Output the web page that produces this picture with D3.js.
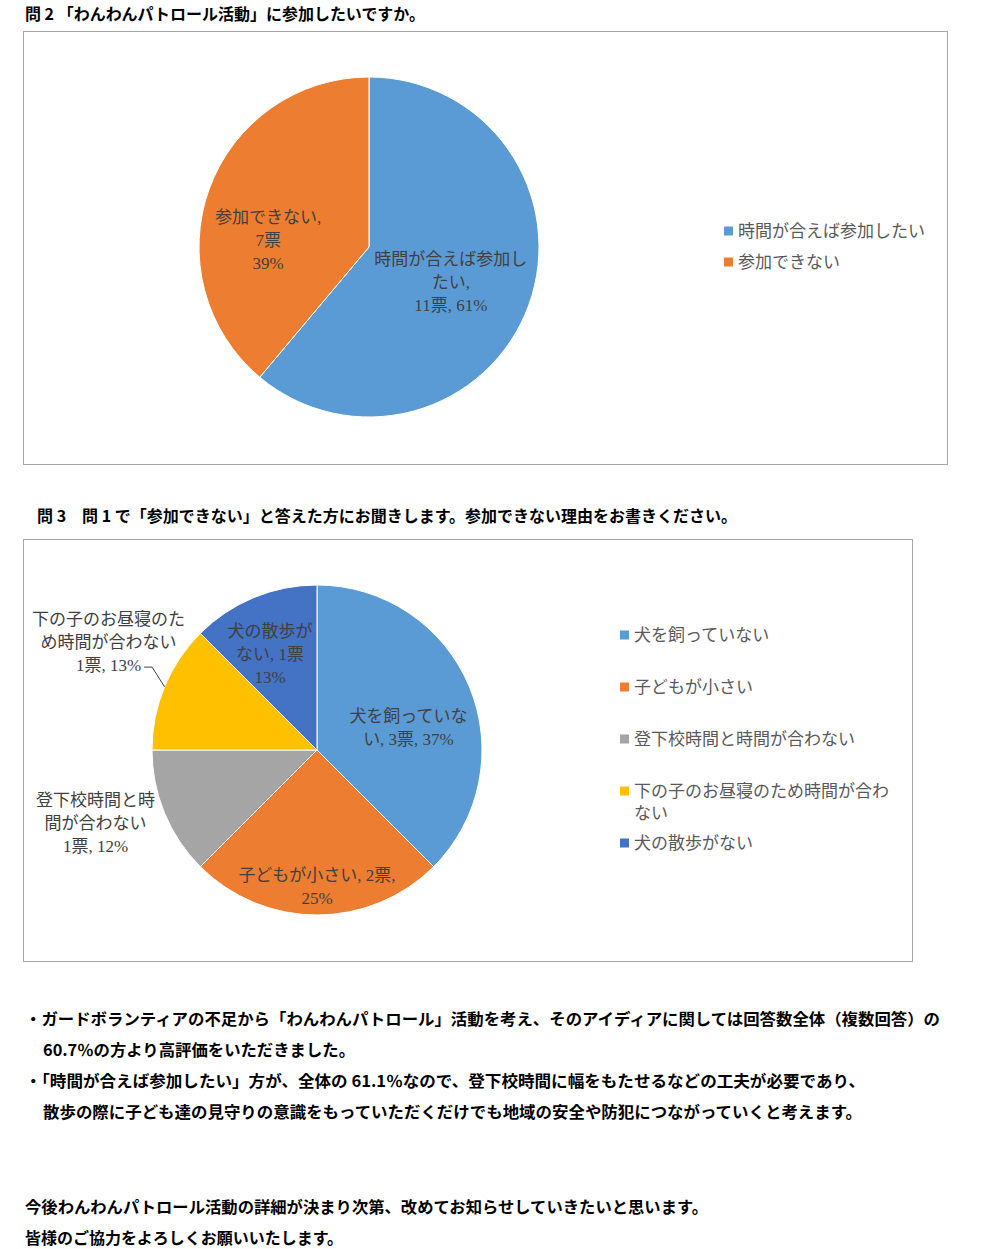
<!DOCTYPE html>
<html lang="ja">
<head>
<meta charset="utf-8">
<script src="https://cdn.jsdelivr.net/npm/d3@7"></script>
<style>
  html, body { margin: 0; padding: 0; background: #fff; }
  svg { display: block; }
  .heading { font-family: "Noto Sans CJK JP", sans-serif; font-weight: 700; fill: #000; }
  .label { font-family: "Liberation Serif", "Noto Sans CJK JP", serif; fill: #404040; }
  .legend { font-family: "Liberation Serif", "Noto Sans CJK JP", serif; fill: #595959; }
</style>
</head>
<body>
<div id="page"></div>
<script>
// --- Data ---
const q2Categories = ["時間が合えば参加したい", "参加できない"];
const q2Votes = [11, 7];
const q2Percents = ["61%", "39%"];
const q2Colors = ["#5B9BD5", "#ED7D31"];

const q3Categories = ["犬を飼っていない", "子どもが小さい", "登下校時間と時間が合わない", "下の子のお昼寝のため時間が合わない", "犬の散歩がない"];
const q3Votes = [3, 2, 1, 1, 1];
const q3Percents = ["37%", "25%", "12%", "13%", "13%"];
const q3Colors = ["#5B9BD5", "#ED7D31", "#A5A5A5", "#FFC000", "#4472C4"];

// data label lines as they wrap in the original
const q2LabelLines = [
    ["時間が合えば参加し", "たい,", "11票, 61%"],
    ["参加できない,", "7票", "39%"]
];
const q3LabelLines = [
    ["犬を飼っていな", "い, 3票, 37%"],
    ["子どもが小さい, 2票,", "25%"],
    ["登下校時間と時", "間が合わない", "1票, 12%"],
    ["下の子のお昼寝のた", "め時間が合わない", "1票, 13%"],
    ["犬の散歩が", "ない, 1票", "13%"]
];
const q3LegendLines = [
    ["犬を飼っていない"],
    ["子どもが小さい"],
    ["登下校時間と時間が合わない"],
    ["下の子のお昼寝のため時間が合わ", "ない"],
    ["犬の散歩がない"]
];

const titleQ2 = "問 2 「わんわんパトロール活動」に参加したいですか。";
const titleQ3 = "問 3　問 1 で「参加できない」と答えた方にお聞きします。参加できない理由をお書きください。";
const notes = [
    "・ガードボランティアの不足から「わんわんパトロール」活動を考え、そのアイディアに関しては回答数全体（複数回答）の",
    "60.7％の方より高評価をいただきました。",
    "・「時間が合えば参加したい」方が、全体の 61.1％なので、登下校時間に幅をもたせるなどの工夫が必要であり、",
    "散歩の際に子ども達の見守りの意識をもっていただくだけでも地域の安全や防犯につながっていくと考えます。",
    "今後わんわんパトロール活動の詳細が決まり次第、改めてお知らせしていきたいと思います。",
    "皆様のご協力をよろしくお願いいたします。"
];

// --- Page ---
const W = 1000, H = 1249;
const svg = d3.select("#page").append("svg")
    .attr("width", W)
    .attr("height", H);

// heading / paragraph text squeezed to the width it takes in the original
function heading(txt, x, y, w, size) {
    svg.append("text")
        .attr("class", "heading")
        .attr("x", x)
        .attr("y", y)
        .attr("dominant-baseline", "central")
        .attr("font-size", size)
        .attr("textLength", w)
        .attr("lengthAdjust", "spacingAndGlyphs")
        .text(txt);
}

heading(titleQ2, 25, 13, 400, 16);
heading(titleQ3, 37, 515, 700, 16);

const noteLayout = [
    { x: 25, y: 1018, w: 915 },
    { x: 43, y: 1049, w: 312 },
    { x: 25, y: 1080, w: 840 },
    { x: 43, y: 1111, w: 819 },
    { x: 25, y: 1206, w: 683 },
    { x: 25, y: 1237, w: 318 }
];
notes.forEach((t, i) => heading(t, noteLayout[i].x, noteLayout[i].y, noteLayout[i].w, 16));

// point on a circle, angle measured clockwise from 12 o'clock
function polar(cx, cy, r, a) {
    return [cx + r * Math.sin(a), cy - r * Math.cos(a)];
}

/**
 * Draws one pie chart with its frame, data labels and legend.
 */
function drawPie(opt) {
    // frame
    svg.append("rect")
        .attr("x", opt.frame[0] + 0.5)
        .attr("y", opt.frame[1] + 0.5)
        .attr("width", opt.frame[2])
        .attr("height", opt.frame[3])
        .attr("fill", "#fff")
        .attr("stroke", "#A6A6A6")
        .attr("stroke-width", 1);

    const data = opt.categories.map((c, i) => ({
        name: c, votes: opt.votes[i], color: opt.colors[i], lines: opt.labelLines[i]
    }));

    const pie = d3.pie().sort(null).value(d => d.votes);
    const arc = d3.arc().innerRadius(0).outerRadius(opt.r);
    const arcs = pie(data);

    const g = svg.append("g")
        .attr("transform", `translate(${opt.cx},${opt.cy})`);

    g.selectAll("path")
        .data(arcs)
        .enter().append("path")
        .attr("d", arc)
        .attr("fill", d => d.data.color)
        .attr("stroke", "#fff")
        .attr("stroke-width", 1);

    // data labels
    const lineH = 23;
    arcs.forEach((d, i) => {
        const mid = (d.startAngle + d.endAngle) / 2;
        const base = polar(opt.cx, opt.cy, opt.r * 0.6, mid);
        const nudge = opt.nudges[i];
        const lx = base[0] + nudge[0];
        const ly = base[1] + nudge[1];
        const n = d.data.lines.length;
        const t = svg.append("text")
            .attr("class", "label")
            .attr("font-size", 17)
            .attr("text-anchor", "middle");
        d.data.lines.forEach((ln, j) => {
            t.append("tspan")
                .attr("x", lx)
                .attr("y", ly + (j - (n - 1) / 2) * lineH)
                .attr("dominant-baseline", "central")
                .text(ln);
        });

        // leader line for labels placed outside the pie
        if (opt.leaders && opt.leaders[i]) {
            const lastY = ly + ((n - 1) / 2) * lineH;
            const tsp = t.selectAll("tspan").nodes();
            const bb = tsp[n - 1].getBBox();
            const x0 = bb.x + bb.width + 3;
            const edge = polar(opt.cx, opt.cy, opt.r, mid);
            svg.append("polyline")
                .attr("points", [[x0, lastY + 2], [x0 + 8, lastY + 2], edge].map(p => p.join(",")).join(" "))
                .attr("fill", "none")
                .attr("stroke", "#404040")
                .attr("stroke-width", 1);
        }
    });

    // legend
    const leg = svg.append("g")
        .attr("transform", `translate(${opt.legend.x},${opt.legend.y})`);
    data.forEach((d, i) => {
        const y = i * opt.legend.step;
        leg.append("rect")
            .attr("x", 0)
            .attr("y", y - 4.5)
            .attr("width", 9)
            .attr("height", 9)
            .attr("fill", d.color);
        const t = leg.append("text")
            .attr("class", "legend")
            .attr("font-size", 17);
        opt.legendLines[i].forEach((ln, j) => {
            t.append("tspan")
                .attr("x", 14)
                .attr("y", y + j * 22)
                .attr("dominant-baseline", "central")
                .text(ln);
        });
    });
}

drawPie({
    frame: [23, 31, 924, 433],
    cx: 369, cy: 247, r: 170,
    categories: q2Categories,
    votes: q2Votes,
    colors: q2Colors,
    labelLines: q2LabelLines,
    nudges: [[-14, 1], [-5, 28]],
    legend: { x: 724, y: 231, step: 31 },
    legendLines: q2Categories.map(c => [c])
});

drawPie({
    frame: [23, 539, 889, 422],
    cx: 317, cy: 750, r: 165,
    categories: q3Categories,
    votes: q3Votes,
    colors: q3Colors,
    labelLines: q3LabelLines,
    nudges: [[0, 16], [0, 38], [-130, 36], [-117, -70], [-9, -4]],
    leaders: [false, false, false, true, false],
    legend: { x: 620, y: 635, step: 52 },
    legendLines: q3LegendLines
});
</script>
</body>
</html>
